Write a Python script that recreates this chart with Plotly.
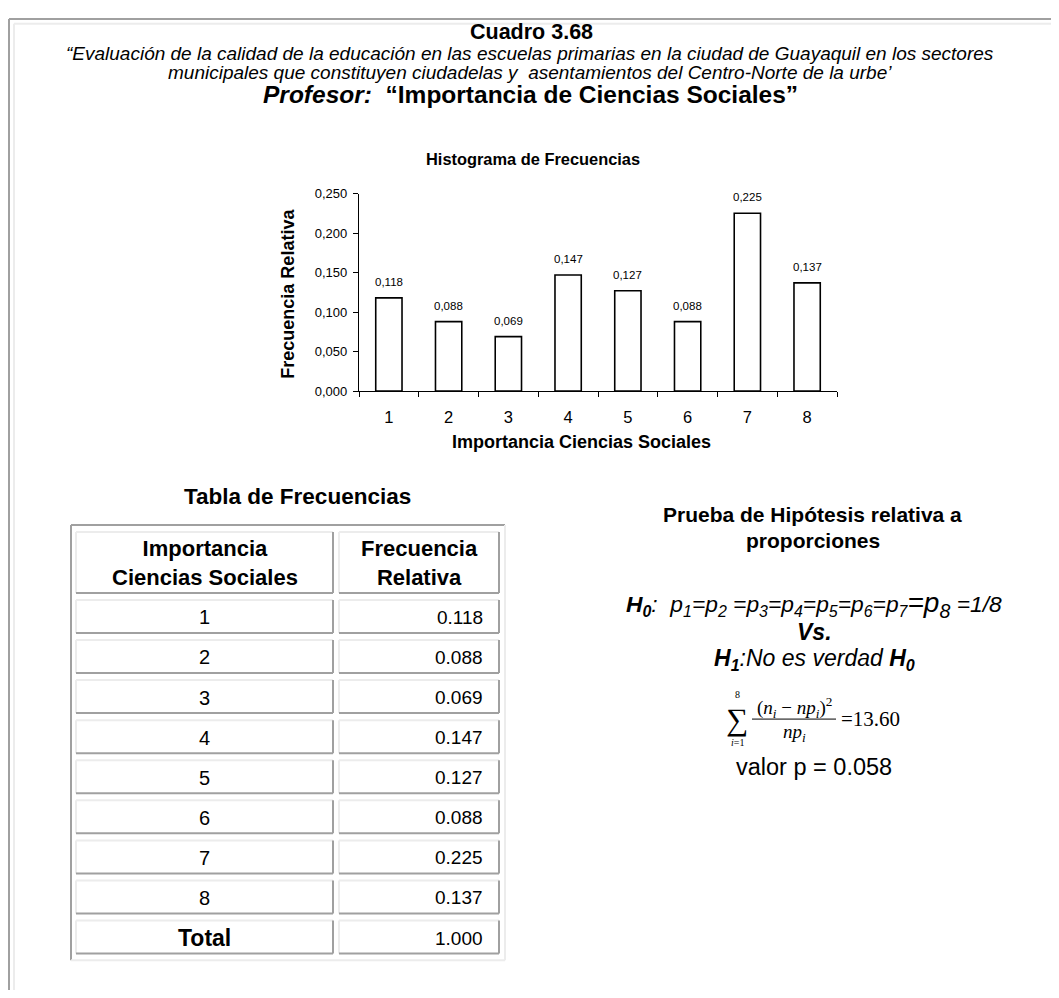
import plotly.graph_objects as go

# Page is drawn inside the browser's default 8px body margin:
# the figure is sized to fit the 1059x998 window exactly.
OFF = 8
FW, FH = 1059 - OFF, 998 - 2 * OFF

# ---------------- data ----------------
categories = ["1", "2", "3", "4", "5", "6", "7", "8"]
rel_freq = [0.118, 0.088, 0.069, 0.147, 0.127, 0.088, 0.225, 0.137]
total_label = "Total"
total_value = 1.000
chi_square = 13.60
p_value = 0.058

title_main = "Cuadro 3.68"
subtitle_1 = "“Evaluación de la calidad de la educación en las escuelas primarias en la ciudad de Guayaquil en los sectores"
subtitle_2 = "municipales que constituyen ciudadelas y  asentamientos del Centro-Norte de la urbe’"
chart_title = "Histograma de Frecuencias"
x_title = "Importancia Ciencias Sociales"
y_title = "Frecuencia Relativa"
table_title = "Tabla de Frecuencias"
table_head = ["Importancia<br>Ciencias Sociales", "Frecuencia<br>Relativa"]

SANS = "Liberation Sans, Arial, sans-serif"
SERIF = "Liberation Serif, Times New Roman, serif"
DARK = "#a0a0a0"
LIGHT = "#ececec"


def px(x):
    return (x - OFF) / FW


def py(y):
    return 1 - (y - OFF) / FH


fig = go.Figure()

fig.add_trace(go.Bar(
    x=categories, y=rel_freq,
    marker=dict(color="white", line=dict(color="black", width=1.6)),
    width=0.44, cliponaxis=False, showlegend=False, hoverinfo="skip",
))

annotations = []
shapes = []

# value labels above the bars, positioned through the axes (category index)
for i, v in enumerate(rel_freq):
    annotations.append(dict(
        x=i, y=v, xref="x", yref="y", text=f"{v:.3f}".replace(".", ","),
        showarrow=False, yshift=16, xanchor="center", yanchor="middle",
        font=dict(family=SANS, size=11.5, color="black"),
    ))


def text(x, y, s, size, xanchor="center", family=SANS, color="black"):
    annotations.append(dict(
        x=px(x), y=py(y), xref="paper", yref="paper", text=s, showarrow=False,
        xanchor=xanchor, yanchor="middle", align=xanchor,
        font=dict(family=family, size=size, color=color),
    ))


def line(x0, y0, x1, y1, color, width=2):
    shapes.append(dict(type="line", xref="paper", yref="paper",
                       x0=px(x0), y0=py(y0), x1=px(x1), y1=py(y1),
                       line=dict(color=color, width=width)))


# ---------------- outer frame ----------------
line(9, 12, 1059, 12, DARK, 2)
line(9, 12, 9, 998, DARK, 2)
line(14, 17, 1059, 17, LIGHT, 2)
line(14, 17, 14, 998, LIGHT, 2)

# ---------------- titles ----------------
text(531, 25, "<b>" + title_main + "</b>", 21.5)
text(530, 47, "<i>" + subtitle_1 + "</i>", 19)
text(530, 66, "<i>" + subtitle_2 + "</i>", 19)
text(530, 89, "<b><i>Profesor:</i>  “Importancia de Ciencias Sociales”</b>", 24.5)

# ---------------- chart texts ----------------
text(533, 154, "<b>" + chart_title + "</b>", 16.4)
text(581, 442, "<b>" + x_title + "</b>", 18)
annotations.append(dict(
    x=px(288), y=py(291), xref="paper", yref="paper", text="<b>" + y_title + "</b>",
    showarrow=False, textangle=-90, xanchor="center", yanchor="middle",
    font=dict(family=SANS, size=18, color="black"),
))

# ---------------- table ----------------
text(297, 497, "<b>" + table_title + "</b>", 22.5)

# outer table border (outset)
line(71, 526, 505, 526, DARK, 2)
line(71, 526, 71, 968, DARK, 2)
line(71, 968, 505, 968, LIGHT, 2)
line(505, 526, 505, 968, LIGHT, 2)

cols = [(76, 333), (339, 499)]


def cell(x0, y0, x1, y1):
    line(x0, y0, x1, y0, LIGHT, 2)
    line(x0, y0, x0, y1, LIGHT, 2)
    line(x0, y1, x1, y1, DARK, 2)
    line(x1, y0, x1, y1, DARK, 2)


# header
hy0, hy1 = 533, 595
for (c0, c1), head in zip(cols, table_head):
    cell(c0, hy0, c1, hy1)
    text((c0 + c1) / 2, (hy0 + hy1) / 2 + 1, "<b>" + head + "</b>", 22)

row_labels = categories + [total_label]
row_values = rel_freq + [total_value]
row_top0, pitch, row_h = 602, 40.7, 33.5
for i, (lab, val) in enumerate(zip(row_labels, row_values)):
    y0 = row_top0 + i * pitch
    y1 = y0 + row_h
    for c0, c1 in cols:
        cell(c0, y0, c1, y1)
    if lab == total_label:
        text((cols[0][0] + cols[0][1]) / 2, (y0 + y1) / 2 + 1, "<b>" + lab + "</b>", 23)
    else:
        text((cols[0][0] + cols[0][1]) / 2, (y0 + y1) / 2 + 1, lab, 20)
    text(485, (y0 + y1) / 2 + 1, f"{val:.3f}", 19, xanchor="right")

# ---------------- hypothesis test ----------------
text(813, 515, "<b>Prueba de Hipótesis relativa a</b>", 21)
text(813, 542, "<b>proporciones</b>", 21)

h0 = ("<b><i>H<sub>0</sub></i></b><i>:  p<sub>1</sub>=p<sub>2</sub> =p<sub>3</sub>=p<sub>4</sub>="
      "p<sub>5</sub>=p<sub>6</sub>=p<sub>7</sub></i>"
      "<span style='font-size:28px'><i>=p<sub>8</sub></i></span><i> =1/8</i>")
text(814, 607, h0, 22.8)
text(814, 635, "<b><i>Vs.</i></b>", 23)
text(814, 663, "<b><i>H<sub>1</sub></i></b><i>:No es verdad </i><b><i>H<sub>0</sub></i></b>", 23)

# chi-square formula
text(737, 723, "∑", 31, family=SERIF)
text(737, 698, "8", 10, family=SERIF)
text(737, 747, "<i>i</i>=1", 10, family=SERIF)
text(794, 711, "(<i>n<sub>i</sub></i> − <i>np<sub>i</sub></i>)<sup>2</sup>", 19, family=SERIF)
line(752, 723, 836, 723, "black", 1)
text(794, 737, "<i>np<sub>i</sub></i>", 19, family=SERIF)
text(839, 723, f"={chi_square:.2f}", 21, xanchor="left", family=SERIF)

text(814, 772, f"valor p = {p_value:.3f}", 23.5)

fig.update_layout(
    width=FW, height=FH, autosize=False,
    margin=dict(l=0, r=0, t=0, b=0),
    paper_bgcolor="white", plot_bgcolor="white",
    separators=",.",
    annotations=annotations, shapes=shapes,
    xaxis=dict(
        domain=[px(359), px(837)], type="category", range=[-0.5, 7.5],
        showline=True, linecolor="black", linewidth=1.2,
        ticks="outside", ticklen=5, tickcolor="black", tickson="boundaries",
        ticklabelstandoff=11,
        tickfont=dict(family=SANS, size=16.5, color="black"),
        showgrid=False, zeroline=False, fixedrange=True,
    ),
    yaxis=dict(
        domain=[py(390), py(189.3)], range=[0, 0.25], dtick=0.05, tickformat=".3f",
        showline=True, linecolor="black", linewidth=1.2,
        ticks="outside", ticklen=5, tickcolor="black",
        ticklabelstandoff=3,
        tickfont=dict(family=SANS, size=13, color="black"),
        showgrid=False, zeroline=False, fixedrange=True,
    ),
)

fig.write_html("out.html")
